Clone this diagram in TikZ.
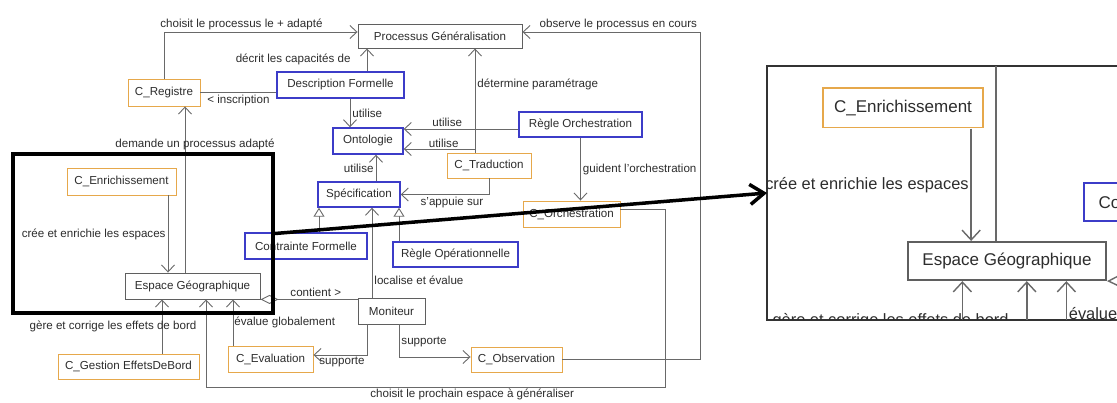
\documentclass[tikz,border=0pt]{standalone}
\usepackage{fontspec}
\setmainfont{Liberation Sans}
\usepackage{xcolor}
\usepackage{tikz}
\usetikzlibrary{arrows.meta,positioning,calc}
\definecolor{orangeb}{RGB}{230,168,75}
\definecolor{blueb}{RGB}{60,60,200}
\definecolor{grayb}{RGB}{95,95,95}
\definecolor{linkc}{RGB}{105,105,105}
\definecolor{txtc}{RGB}{45,45,45}
\newcommand{\linkw}{0.9pt}
\newcommand{\boxw}{0.9pt}
\newcommand{\blueboxw}{1.4pt}
\newcommand{\tipsc}{1}

\begin{document}
\begin{tikzpicture}[x=1pt, y=-1pt,
  every node/.style={font=\fontsize{11.6}{13}\selectfont, text=txtc},
  box/.style={draw, fill=white, line width=\boxw, inner sep=2pt},
  gbox/.style={box, draw=grayb},
  cbox/.style={box, draw=orangeb},
  bbox/.style={box, draw=blueb, line width=\blueboxw},
  lbl/.style={inner sep=2pt},
  link/.style={draw=linkc, line width=\linkw},
  arr/.style={link, -{Straight Barb[length=7pt, width=13pt, scale=\tipsc]}},
  gen/.style={link, -{Triangle[length=9pt, width=11pt, fill=white, scale=\tipsc]}},
  agg/.style={link, {Diamond[length=18pt, width=9pt, fill=white, scale=\tipsc]}-},
  bigarr/.style={line width=3.5pt, -{Straight Barb[length=14pt, width=20pt]}}]
\path[use as bounding box, fill=white] (0,0) rectangle (1117,403);
\node[gbox, minimum width=164pt, minimum height=24pt] (proc) at (440,36) {Processus Généralisation};
\node[cbox, minimum width=72pt, minimum height=27pt] (reg) at (164,92.5) {C\_Registre};
\node[bbox, minimum width=127pt, minimum height=26pt] (desc) at (340.5,85) {Description Formelle};
\node[bbox, minimum width=70pt, minimum height=26pt] (onto) at (368,141) {Ontologie};
\node[bbox, minimum width=82pt, minimum height=25pt] (spec) at (359,194.5) {Spécification};
\node[bbox, minimum width=123pt, minimum height=25pt] (rorch) at (580.5,124.5) {Règle Orchestration};
\node[cbox, minimum width=84pt, minimum height=25pt] (trad) at (489,165.5) {C\_Traduction};
\node[cbox, minimum width=97pt, minimum height=26pt] (orch) at (571.5,214) {C\_Orchestration};
\node[cbox, minimum width=109pt, minimum height=27pt] (enr) at (121.5,181.5) {C\_Enrichissement};
\node[gbox, minimum width=135pt, minimum height=26pt] (esp) at (192.5,286) {Espace Géographique};
\node[bbox, minimum width=122pt, minimum height=26pt] (cform) at (306,246) {Contrainte Formelle};
\node[bbox, minimum width=125pt, minimum height=25pt] (rop) at (455.5,254.5) {Règle Opérationnelle};
\node[gbox, minimum width=67pt, minimum height=26pt] (mon) at (391.5,311) {Moniteur};
\node[cbox, minimum width=141pt, minimum height=25pt] (gest) at (128.5,366.5) {C\_Gestion EffetsDeBord};
\node[cbox, minimum width=85pt, minimum height=26pt] (eval) at (270.5,359) {C\_Evaluation};
\node[cbox, minimum width=91pt, minimum height=25pt] (obs) at (516.5,359.5) {C\_Observation};
\draw[arr] (reg.north) |- node[lbl, above, pos=0.7] {choisit le processus le + adapté} ([yshift=4pt]proc.west);
\draw[arr] ([xshift=26.5pt]desc.north) -- node[lbl, left=14pt] {décrit les capacités de} ([xshift=26.5pt]desc.north |- proc.south);
\draw[link] (reg.east) -- node[lbl, below] {< inscription} (reg.east -| desc.west);
\draw[arr] ([xshift=9.5pt]desc.south) -- node[lbl, right] {utilise} ([xshift=9.5pt]desc.south |- onto.north);
\draw[arr] ([xshift=17pt]spec.north) -- node[lbl, left] {utilise} ([xshift=17pt]spec.north |- onto.south);
\draw[arr] ([yshift=-4.5pt]rorch.west) -- node[lbl, above, pos=0.62] {utilise} ([yshift=-4.5pt]rorch.west -| onto.east);
\draw[arr] ([xshift=-14pt]trad.north) |- node[lbl, above, pos=0.72, inner sep=1pt] {utilise} ([yshift=-8pt]onto.east);
\draw[arr] ([xshift=-14pt]trad.north) -- node[lbl, right, pos=0.65] {détermine paramétrage} ([xshift=-14pt]trad.north |- proc.south);
\draw[arr] (trad.south) |- node[lbl, below, pos=0.71] {s'appuie sur} (spec.east);
\draw[arr] (rorch.south) -- node[lbl, right] {guident l'orchestration} (rorch.south |- orch.north);
\draw[arr] ([yshift=5pt]orch.east) -| (665,387) -| node[lbl, below, pos=0.21] {choisit le prochain espace à généraliser} ([xshift=13.5pt]esp.south);
\draw[arr] (obs.east) -| (700,32) -- node[lbl, above, pos=0.46] {observe le processus en cours} ([yshift=4pt]proc.east);
\draw[arr] ([xshift=46.5pt]enr.south) -- node[lbl, left] {crée et enrichie les espaces} ([xshift=46.5pt]enr.south |- esp.north);
\draw[arr] ([xshift=-7.5pt]esp.north) -- node[lbl, pos=0.77, xshift=10pt] {demande un processus adapté} ([xshift=-7.5pt]esp.north |- reg.south);
\draw[arr] ([xshift=33.5pt]gest.north) -- node[lbl, xshift=-49pt] {gère et corrige les effets de bord} ([xshift=33.5pt]gest.north |- esp.south);
\draw[arr] ([xshift=-37.5pt]eval.north) -- node[lbl, right, inner sep=1pt] {évalue globalement} ([xshift=-37.5pt]eval.north |- esp.south);
\draw[agg] (esp.south east) -- node[lbl, above, pos=0.57] {contient >} (esp.south east -| mon.west);
\draw[arr] ([xshift=-19.5pt]mon.north) -- node[lbl, right, pos=0.19] {localise et évalue} ([xshift=-19.5pt]mon.north |- spec.south);
\draw[gen] ([xshift=13pt]cform.north) -- ([xshift=13pt]cform.north |- spec.south);
\draw[gen] ([xshift=-56.5pt]rop.north) -- ([xshift=-56.5pt]rop.north |- spec.south);
\draw[arr] ([xshift=-24.5pt]mon.south) |- node[lbl, below left, pos=0.5] {supporte} ([yshift=4pt]eval.east);
\draw[arr] ([xshift=7.5pt]mon.south) |- node[lbl, right, pos=0.27] {supporte} ([yshift=2.5pt]obs.west);
\node[draw=black, line width=4pt, inner sep=0pt, minimum width=260pt, minimum height=159pt] (focus) at (143,233.5) {};
\node[draw=black!80, line width=2pt, inner sep=0pt, outer sep=0pt, minimum width=373pt, minimum height=254pt] (zoomwin) at (953.5,193) {};
\begin{scope}
  \clip (zoomwin.north west) rectangle (zoomwin.south east);
  \begin{scope}[shift={(725,-158)}, scale=1.465, transform shape, name prefix=z-,
      lbl/.append style={inner sep=1pt, font=\fontsize{11.2}{13}\selectfont}]
    \def\linkw{1.4pt}\def\boxw{1.4pt}\def\blueboxw{2pt}\def\tipsc{1.4}
    \node[cbox, minimum width=109pt, minimum height=27pt] (enr) at (121.5,181.5) {C\_Enrichissement};
    \node[gbox, minimum width=135pt, minimum height=26pt] (esp) at (192.5,286) {Espace Géographique};
    \node[bbox, minimum width=122pt, minimum height=26pt] (cform) at (306,246) {Contrainte Formelle};
    \coordinate (regin) at (185,153);
    \coordinate (gestin) at (162,345);
    \coordinate (orchin) at (206,345);
    \coordinate (evalin) at (233,345);
    \coordinate (monin) at (300,299);
    \draw[arr] ([xshift=46.5pt]enr.south) -- node[lbl, left] {crée et enrichie les espaces} ([xshift=46.5pt]enr.south |- esp.north);
    \draw[link] (esp.north -| regin) -- (regin);
    \draw[arr] (gestin) -- node[lbl, pos=0.4, xshift=-49pt] {gère et corrige les effets de bord} (gestin |- esp.south);
    \draw[arr] (orchin) -- (orchin |- esp.south);
    \draw[arr] (evalin) -- node[lbl, right, pos=0.48] {évalue globalement} (evalin |- esp.south);
    \draw[agg] (esp.south east) -- (monin);
  \end{scope}
\end{scope}
\draw[bigarr] (focus.east) -- (zoomwin.west);
\end{tikzpicture}
\end{document}
